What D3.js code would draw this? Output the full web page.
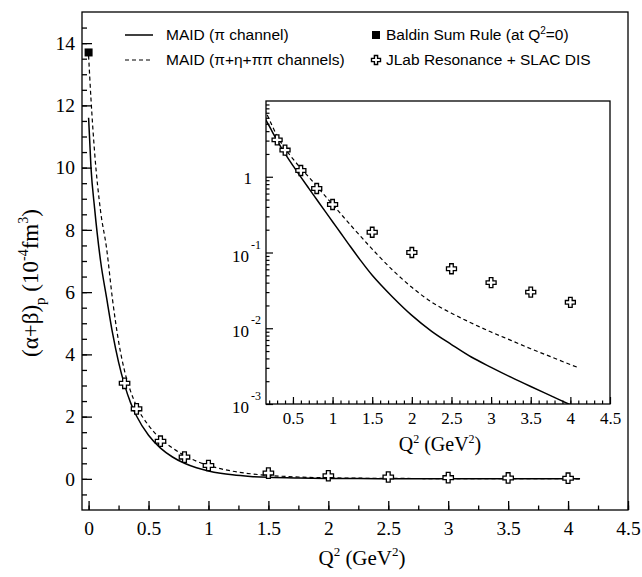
<!DOCTYPE html>
<html>
<head>
<meta charset="utf-8">
<script src="https://cdn.jsdelivr.net/npm/d3@7"></script>
<style>
  body { margin: 0; background: #fff; }
  svg { display: block; }
</style>
</head>
<body>
<svg id="chart" width="642" height="577"></svg>
<script>
// MAID curves (Q2 in GeV^2, value in 10^-4 fm^3)
var q2Grid  = [0, 0.02, 0.05, 0.1, 0.15, 0.2, 0.25, 0.3, 0.35, 0.4, 0.5, 0.6, 0.7, 0.8, 0.9, 1.0, 1.1, 1.2, 1.35, 1.5, 1.75, 2.0, 2.25, 2.5, 2.75, 3.0, 3.25, 3.5, 3.75, 4.0, 4.1];
var maidPi  = [11.6, 10.0, 8.7, 7.0, 5.82, 4.68, 3.75, 3.02, 2.45, 2.02, 1.40, 0.989, 0.703, 0.501, 0.357, 0.255, 0.182, 0.130, 0.0794, 0.0501, 0.0263, 0.0148, 0.00912, 0.0061, 0.00417, 0.00305, 0.00226, 0.00170, 0.00129, 0.000977, 0.000875];
var maidAll = [13.6, 12.2, 10.5, 8.6, 7.41, 5.75, 4.42, 3.47, 2.82, 2.34, 1.72, 1.29, 0.989, 0.75, 0.569, 0.431, 0.327, 0.248, 0.165, 0.111, 0.0596, 0.0347, 0.0221, 0.0158, 0.01175, 0.00891, 0.00692, 0.00537, 0.00422, 0.00331, 0.00302];

// JLab resonance + SLAC DIS points
var dataQ2  = [0.3, 0.4, 0.6, 0.8, 1.0, 1.5, 2.0, 2.5, 3.0, 3.5, 4.0];
var dataVal = [3.07, 2.25, 1.21, 0.70, 0.43, 0.185, 0.10, 0.061, 0.040, 0.030, 0.022];

// Baldin sum rule at Q2 = 0
var baldinQ2 = [0];
var baldinVal = [13.7];

var xTicks = [0, 0.5, 1, 1.5, 2, 2.5, 3, 3.5, 4, 4.5];
var yTicks = [0, 2, 4, 6, 8, 10, 12, 14];
var insetXTicks = [0.5, 1, 1.5, 2, 2.5, 3, 3.5, 4, 4.5];
var insetYTicks = [0.001, 0.01, 0.1, 1];
var insetYLabels = [["10", "-3"], ["10", "-2"], ["10", "-1"], ["1", ""]];

var legendLabels = ["MAID (π channel)", "MAID (π+η+ππ channels)", "Baldin Sum Rule (at Q", "JLab Resonance + SLAC DIS"];

var svg = d3.select("#chart");
var serif = "'Liberation Serif', 'Times New Roman', serif";
var sans = "'Liberation Sans', Arial, sans-serif";

var curvePi = q2Grid.map(function(q, i) { return { q: q, v: maidPi[i] }; });
var curveAll = q2Grid.map(function(q, i) { return { q: q, v: maidAll[i] }; });
var points = dataQ2.map(function(q, i) { return { q: q, v: dataVal[i] }; });

function crossPath(s, w) {
  return "M" + (-w) + "," + (-s) + "H" + w + "V" + (-w) + "H" + s + "V" + w + "H" + w + "V" + s +
         "H" + (-w) + "V" + w + "H" + (-s) + "V" + (-w) + "H" + (-w) + "Z";
}

// ---------- main plot ----------
var x = d3.scaleLinear().domain([-0.055, 4.5]).range([82, 628]);
var y = d3.scaleLinear().domain([-1, 15]).range([510, 12]);

svg.append("clipPath").attr("id", "mainClip")
  .append("rect").attr("x", 82).attr("y", 12).attr("width", 546).attr("height", 498);

// minor ticks
svg.append("g").attr("transform", "translate(0,510)")
  .call(d3.axisBottom(x).tickValues(d3.range(0, 4.51, 0.25)).tickSize(-4.5).tickFormat(""))
  .call(function(g) { g.select(".domain").remove(); });
svg.append("g").attr("transform", "translate(82,0)")
  .call(d3.axisLeft(y).tickValues(d3.range(-0.5, 14.6, 0.5)).tickSize(-5).tickFormat(""))
  .call(function(g) { g.select(".domain").remove(); });

// major ticks + labels
svg.append("g").attr("transform", "translate(0,510)")
  .call(d3.axisBottom(x).tickValues(xTicks).tickSize(-9).tickPadding(11).tickFormat(d3.format("")))
  .call(function(g) {
    g.select(".domain").remove();
    g.selectAll("text").attr("font-family", serif).attr("font-size", 19.5).attr("fill", "#000");
  });
svg.append("g").attr("transform", "translate(82,0)")
  .call(d3.axisLeft(y).tickValues(yTicks).tickSize(-10).tickPadding(7).tickFormat(d3.format("")))
  .call(function(g) {
    g.select(".domain").remove();
    g.selectAll("text").attr("font-family", serif).attr("font-size", 19.5).attr("fill", "#000");
  });
svg.selectAll(".tick line").attr("stroke", "#000").attr("stroke-width", 1.3);

svg.append("rect").attr("x", 82).attr("y", 12).attr("width", 546).attr("height", 498)
  .attr("fill", "none").attr("stroke", "#000").attr("stroke-width", 1.3);

var line = d3.line().x(function(d) { return x(d.q); }).y(function(d) { return y(d.v); })
  .curve(d3.curveMonotoneX);

var mainG = svg.append("g").attr("clip-path", "url(#mainClip)");
mainG.append("path").datum(curvePi).attr("d", line)
  .attr("fill", "none").attr("stroke", "#000").attr("stroke-width", 1.5);
mainG.append("path").datum(curveAll).attr("d", line)
  .attr("fill", "none").attr("stroke", "#000").attr("stroke-width", 1.2).attr("stroke-dasharray", "4,3");

mainG.selectAll(".pt").data(points).enter().append("path").attr("class", "pt")
  .attr("transform", function(d) { return "translate(" + x(d.q) + "," + y(d.v) + ")"; })
  .attr("d", crossPath(5.2, 1.9))
  .attr("fill", "#fff").attr("stroke", "#000").attr("stroke-width", 1.3);

mainG.selectAll(".baldin").data(baldinQ2).enter().append("rect").attr("class", "baldin")
  .attr("x", function(d) { return x(d) - 4; })
  .attr("y", function(d, i) { return y(baldinVal[i]) - 4; })
  .attr("width", 8).attr("height", 8).attr("fill", "#000");

// axis titles
var xt = svg.append("text").attr("x", 362).attr("y", 565).attr("text-anchor", "middle")
  .attr("font-family", serif).attr("font-size", 21);
xt.append("tspan").text("Q");
xt.append("tspan").attr("font-size", 13).attr("dy", -9).text("2");
xt.append("tspan").attr("dy", 9).text(" (GeV");
xt.append("tspan").attr("font-size", 13).attr("dy", -9).text("2");
xt.append("tspan").attr("dy", 9).text(")");

var yt = svg.append("text").attr("transform", "translate(38,283) rotate(-90)").attr("text-anchor", "middle")
  .attr("font-family", serif).attr("font-size", 23);
yt.append("tspan").text("(α+β)");
yt.append("tspan").attr("font-size", 15).attr("dy", 7).text("p");
yt.append("tspan").attr("dy", -7).text(" (10");
yt.append("tspan").attr("font-size", 14).attr("dy", -10).text("-4");
yt.append("tspan").attr("dy", 10).text("fm");
yt.append("tspan").attr("font-size", 14).attr("dy", -10).text("3");
yt.append("tspan").attr("dy", 10).text(")");

// legend
var leg = svg.append("g").attr("font-family", sans).attr("font-size", 15.5);
leg.append("line").attr("x1", 125).attr("x2", 153).attr("y1", 35).attr("y2", 35)
  .attr("stroke", "#000").attr("stroke-width", 1.5);
leg.append("line").attr("x1", 125).attr("x2", 153).attr("y1", 60).attr("y2", 60)
  .attr("stroke", "#000").attr("stroke-width", 1.2).attr("stroke-dasharray", "4,3");
leg.append("text").attr("x", 166).attr("y", 40).text(legendLabels[0]);
leg.append("text").attr("x", 166).attr("y", 65).text(legendLabels[1]);
leg.append("rect").attr("x", 372).attr("y", 31).attr("width", 8).attr("height", 8).attr("fill", "#000");
leg.append("path").attr("transform", "translate(376,60)").attr("d", crossPath(4.5, 1.6))
  .attr("fill", "#fff").attr("stroke", "#000").attr("stroke-width", 1.4);
var lb = leg.append("text").attr("x", 386).attr("y", 40);
lb.append("tspan").text(legendLabels[2]);
lb.append("tspan").attr("font-size", 10).attr("dy", -6).text("2");
lb.append("tspan").attr("dy", 6).text("=0)");
leg.append("text").attr("x", 386).attr("y", 65).text(legendLabels[3]);

// ---------- inset ----------
var ix = d3.scaleLinear().domain([0.16, 4.5]).range([266, 610]);
var iy = d3.scaleLog().domain([0.001, 10]).range([404, 101]);

svg.append("rect").attr("x", 266).attr("y", 101).attr("width", 344).attr("height", 303).attr("fill", "#fff");
svg.append("clipPath").attr("id", "insetClip")
  .append("rect").attr("x", 266).attr("y", 101).attr("width", 344).attr("height", 303);

var inset = svg.append("g");

var minorLog = [];
[0.001, 0.01, 0.1, 1].forEach(function(dec) {
  for (var k = 2; k <= 9; k++) minorLog.push(dec * k);
});

inset.append("g").attr("transform", "translate(0,404)")
  .call(d3.axisBottom(ix).tickValues(d3.range(0.2, 4.45, 0.1)).tickSize(-3.5).tickFormat(""))
  .call(function(g) { g.select(".domain").remove(); });
inset.append("g").attr("transform", "translate(266,0)")
  .call(d3.axisLeft(iy).tickValues(minorLog).tickSize(-3.5).tickFormat(""))
  .call(function(g) { g.select(".domain").remove(); });

inset.append("g").attr("transform", "translate(0,404)")
  .call(d3.axisBottom(ix).tickValues(insetXTicks).tickSize(-7).tickPadding(8).tickFormat(d3.format("")))
  .call(function(g) {
    g.select(".domain").remove();
    g.selectAll("text").attr("font-family", serif).attr("font-size", 17).attr("fill", "#000");
  });
inset.append("g").attr("transform", "translate(266,0)")
  .call(d3.axisLeft(iy).tickValues(insetYTicks).tickSize(-7).tickFormat(""))
  .call(function(g) { g.select(".domain").remove(); });
inset.selectAll(".tick line").attr("stroke", "#000").attr("stroke-width", 1.2);

insetYTicks.forEach(function(t, i) {
  var lab = insetYLabels[i];
  var tx = inset.append("text").attr("font-family", serif).attr("font-size", 17);
  if (lab[1] === "") {
    tx.attr("x", 252).attr("y", iy(t) + 7).attr("text-anchor", "end").text(lab[0]);
  } else {
    tx.attr("x", 249).attr("y", iy(t) + 9).attr("text-anchor", "end").text(lab[0]);
    inset.append("text").attr("font-family", serif).attr("font-size", 12)
      .attr("x", 251).attr("y", iy(t) - 4).text(lab[1]);
  }
});

inset.append("rect").attr("x", 266).attr("y", 101).attr("width", 344).attr("height", 303)
  .attr("fill", "none").attr("stroke", "#000").attr("stroke-width", 1.3);

// smoother spline in log space for the inset
var iline = d3.line().x(function(d) { return ix(d.q); }).y(function(d) { return iy(d.v); })
  .curve(d3.curveCatmullRom.alpha(0.5));
var insetG = inset.append("g").attr("clip-path", "url(#insetClip)");
insetG.append("path").datum(curvePi).attr("d", iline)
  .attr("fill", "none").attr("stroke", "#000").attr("stroke-width", 1.5);
insetG.append("path").datum(curveAll).attr("d", iline)
  .attr("fill", "none").attr("stroke", "#000").attr("stroke-width", 1.2).attr("stroke-dasharray", "4,3");
insetG.selectAll(".ipt").data(points).enter().append("path").attr("class", "ipt")
  .attr("transform", function(d) { return "translate(" + ix(d.q) + "," + iy(d.v) + ")"; })
  .attr("d", crossPath(5, 1.8))
  .attr("fill", "#fff").attr("stroke", "#000").attr("stroke-width", 1.3);

var ixt = inset.append("text").attr("x", 440).attr("y", 451).attr("text-anchor", "middle")
  .attr("font-family", serif).attr("font-size", 20);
ixt.append("tspan").text("Q");
ixt.append("tspan").attr("font-size", 12).attr("dy", -8).text("2");
ixt.append("tspan").attr("dy", 8).text(" (GeV");
ixt.append("tspan").attr("font-size", 12).attr("dy", -8).text("2");
ixt.append("tspan").attr("dy", 8).text(")");
</script>
</body>
</html>
